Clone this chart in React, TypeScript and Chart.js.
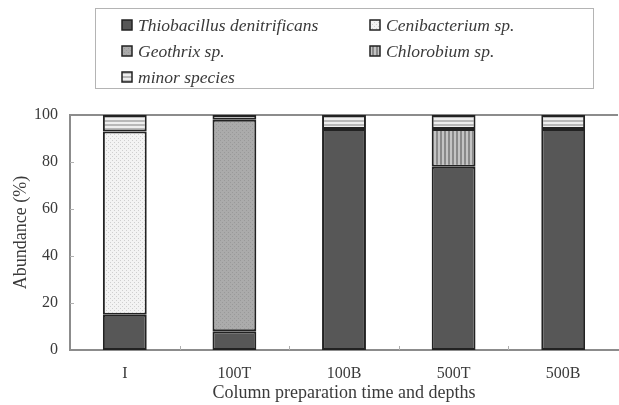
import React, { useEffect, useRef } from "react";
import { Chart, registerables } from "chart.js";

Chart.register(...registerables);

const categories = ["I", "100T", "100B", "500T", "500B"];
const thiobacillus = [15, 8, 94, 78, 94];
const cenibacterium = [78, null, null, null, null];
const geothrix = [null, 90, null, null, null];
const chlorobium = [null, null, null, 16, null];
const minorSpecies = [7, 2, 6, 6, 6];
const yTicks = [0, 20, 40, 60, 80, 100];

const seriesNames = [
  "Thiobacillus denitrificans",
  "Cenibacterium sp.",
  "Geothrix sp.",
  "Chlorobium sp.",
  "minor species",
];

function makePattern(kind: string): CanvasPattern | string {
  const c = document.createElement("canvas");
  const ctx = c.getContext("2d");
  if (!ctx) return "#ccc";
  if (kind === "dotsLight") {
    c.width = 4; c.height = 4;
    ctx.fillStyle = "#f3f3f3"; ctx.fillRect(0, 0, 4, 4);
    ctx.fillStyle = "#cfcfcf"; ctx.fillRect(0, 0, 1, 1); ctx.fillRect(2, 2, 1, 1);
  } else if (kind === "dotsGray") {
    c.width = 4; c.height = 4;
    ctx.fillStyle = "#ababab"; ctx.fillRect(0, 0, 4, 4);
    ctx.fillStyle = "#999999"; ctx.fillRect(0, 0, 1, 1); ctx.fillRect(2, 2, 1, 1);
  } else if (kind === "vstripes") {
    c.width = 4; c.height = 4;
    ctx.fillStyle = "#c4c4c4"; ctx.fillRect(0, 0, 4, 4);
    ctx.fillStyle = "#8a8a8a"; ctx.fillRect(0, 0, 2, 4);
  } else if (kind === "hstripes") {
    c.width = 4; c.height = 4;
    ctx.fillStyle = "#eeeeee"; ctx.fillRect(0, 0, 4, 4);
    ctx.fillStyle = "#b8b8b8"; ctx.fillRect(0, 0, 4, 2);
  }
  const p = ctx.createPattern(c, "repeat");
  return p || "#ccc";
}

const SERIF = "'Liberation Serif', 'DejaVu Serif', serif";
const TEXT = "#3a3a3a";

export default function App() {
  const ref = useRef<HTMLCanvasElement>(null);
  useEffect(() => {
    if (!ref.current) return;
    const fills = [
      "#575757",
      makePattern("dotsLight"),
      makePattern("dotsGray"),
      makePattern("vstripes"),
      makePattern("hstripes"),
    ];
    const values = [thiobacillus, cenibacterium, geothrix, chlorobium, minorSpecies];
    // stacking order bottom->top: Thio, Geothrix, Ceni, Chloro, minor
    const order = [0, 2, 1, 3, 4];

    const extras = {
      id: "extras",
      beforeDatasetsDraw(chart: any) {
        const { ctx, chartArea, scales } = chart;
        const y100 = scales.y.getPixelForValue(100);
        ctx.save();
        ctx.strokeStyle = "#8c8c8c";
        ctx.lineWidth = 2;
        ctx.beginPath();
        ctx.moveTo(chartArea.left, y100);
        ctx.lineTo(chartArea.right, y100);
        ctx.stroke();
        ctx.strokeStyle = "#b0b0b0";
        ctx.lineWidth = 1;
        for (const v of yTicks) {
          if (v === 0 || v === 100) continue;
          const y = Math.round(scales.y.getPixelForValue(v)) + 0.5;
          ctx.beginPath();
          ctx.moveTo(chartArea.left, y);
          ctx.lineTo(chartArea.left + 4, y);
          ctx.stroke();
        }
        for (let i = 1; i < categories.length; i++) {
          const x = Math.round((scales.x.getPixelForValue(i - 1) + scales.x.getPixelForValue(i)) / 2) + 0.5;
          ctx.beginPath();
          ctx.moveTo(x, chartArea.bottom);
          ctx.lineTo(x, chartArea.bottom - 4);
          ctx.stroke();
        }
        ctx.restore();
      },
      afterDraw(chart: any) {
        const { ctx } = chart;
        ctx.save();
        ctx.strokeStyle = "#b4b4b4";
        ctx.lineWidth = 1;
        ctx.strokeRect(95.5, 8.5, 498, 80);
        const items = [
          { idx: 0, col: 0, row: 0 },
          { idx: 1, col: 1, row: 0 },
          { idx: 2, col: 0, row: 1 },
          { idx: 3, col: 1, row: 1 },
          { idx: 4, col: 0, row: 2 },
        ];
        const colX = [122, 370];
        const rowY = [25, 51, 77];
        ctx.font = "italic 17.5px " + SERIF;
        ctx.textBaseline = "middle";
        ctx.textAlign = "left";
        for (const it of items) {
          const x = colX[it.col];
          const y = rowY[it.row];
          ctx.fillStyle = fills[it.idx] as any;
          ctx.fillRect(x, y - 5, 10, 10);
          ctx.strokeStyle = "#222";
          ctx.lineWidth = 1.5;
          ctx.strokeRect(x, y - 5, 10, 10);
          ctx.fillStyle = TEXT;
          ctx.fillText(seriesNames[it.idx], x + 16, y + 1);
        }
        ctx.restore();
      },
    };

    const chart = new Chart(ref.current, {
      type: "bar",
      data: {
        labels: categories,
        datasets: order.map((i) => ({
          label: seriesNames[i],
          data: values[i] as any,
          backgroundColor: fills[i] as any,
          borderColor: "#222222",
          borderWidth: 2,
          borderSkipped: false,
          barPercentage: 0.4,
          categoryPercentage: 1,
        })),
      },
      options: {
        animation: false,
        responsive: false,
        maintainAspectRatio: false,
        layout: { padding: { top: 115, left: 8, right: 1, bottom: 0 } },
        plugins: { legend: { display: false }, tooltip: { enabled: false } },
        scales: {
          x: {
            stacked: true,
            grid: { display: false, drawTicks: false },
            border: { display: true, color: "#8c8c8c", width: 2 },
            ticks: { color: TEXT, font: { family: SERIF, size: 16 }, padding: 14 },
            title: {
              display: true,
              text: "Column preparation time and depths",
              color: TEXT,
              font: { family: SERIF, size: 18 },
              padding: { top: 0, bottom: 1 },
            },
            afterFit: (s: any) => { s.height = 55; },
          },
          y: {
            stacked: true,
            min: 0,
            max: 100,
            grid: { display: false, drawTicks: false },
            border: { display: true, color: "#8c8c8c", width: 2 },
            ticks: { stepSize: 20, color: TEXT, font: { family: SERIF, size: 16 }, padding: 12 },
            title: {
              display: true,
              text: "Abundance (%)",
              color: TEXT,
              font: { family: SERIF, size: 18 },
              padding: { top: 2, bottom: 0 },
            },
            afterFit: (s: any) => { s.width = 62; },
          },
        },
      },
      plugins: [extras],
    });
    return () => chart.destroy();
  }, []);
  return (
    <div style={{ position: "fixed", left: 0, top: 0, width: 619, height: 405, background: "#fff" }}>
      <canvas ref={ref} width={619} height={405} style={{ width: 619, height: 405 }} />
    </div>
  );
}
